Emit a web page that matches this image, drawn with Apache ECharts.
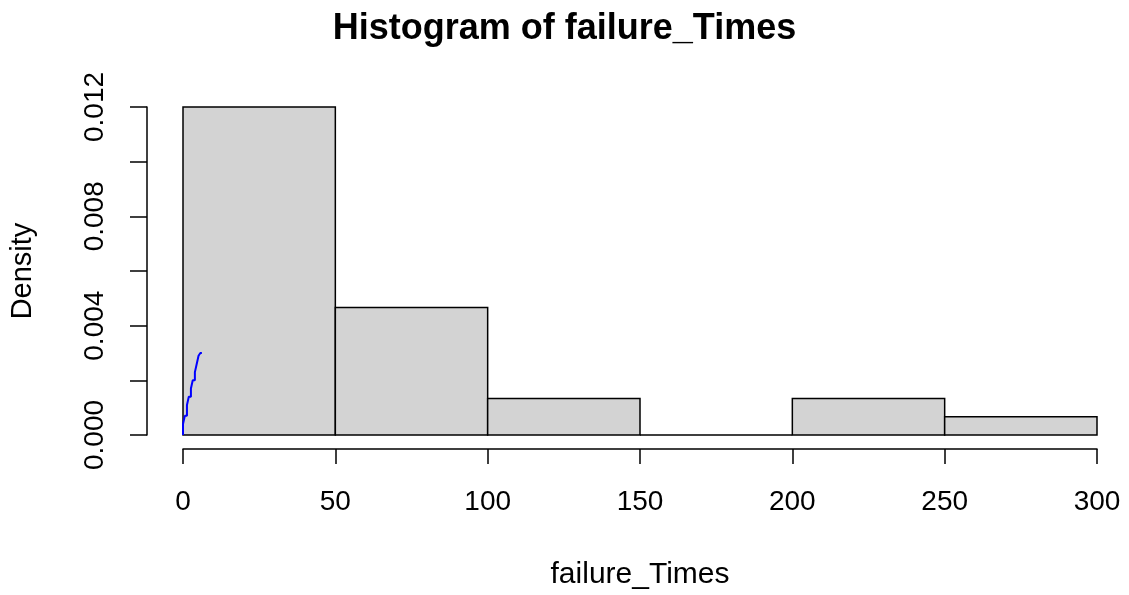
<!DOCTYPE html>
<html lang="en">
<head>
    <meta charset="UTF-8">
    <title>Histogram of failure_Times</title>
    <style>
        html, body { margin: 0; padding: 0; background: #fff; }
        #main { width: 1129px; height: 595px; }
    </style>
</head>
<body>
    <div id="main"></div>
    <script src="https://cdn.jsdelivr.net/npm/echarts@6/dist/echarts.min.js"></script>
    <script>
        // histogram breaks and densities (counts out of 30, bin width 50)
        var breaks = [0, 50, 100, 150, 200, 250, 300];
        var densities = [0.012, 0.004667, 0.001333, 0, 0.001333, 0.000667];
        // the small blue step line near the origin
        var lineX = [0, 0.6, 1.3, 1.9, 2.6, 3.2, 3.9, 4.5, 5.1, 5.7, 6.2];
        var lineY = [0, 0.0004, 0.0007, 0.0011, 0.0014, 0.0017, 0.0020, 0.0023, 0.0026, 0.0029, 0.0030];
        var xTicks = [0, 50, 100, 150, 200, 250, 300];
        var yTicks = [0, 0.004, 0.008, 0.012];

        var font = 'Liberation Sans, Arial, sans-serif';
        var chart = echarts.init(document.getElementById('main'), null, { renderer: 'canvas' });

        var bars = [];
        for (var i = 0; i < densities.length; i++) {
            bars.push([breaks[i], breaks[i + 1], densities[i]]);
        }
        var linePts = lineX.map(function (x, i) { return [x, lineY[i]]; });

        var option = {
            backgroundColor: '#fff',
            animation: false,
            title: {
                text: 'Histogram of failure_Times',
                left: 'center',
                top: 6,
                textStyle: { fontFamily: font, fontSize: 36, fontWeight: 'bold', color: '#000' }
            },
            grid: { left: 183, right: 32, top: 107, bottom: 158 },
            xAxis: {
                type: 'value',
                min: 0, max: 300, interval: 50,
                offset: 14,
                name: 'failure_Times',
                nameLocation: 'middle',
                nameGap: 111,
                nameTextStyle: { fontFamily: font, fontSize: 30, color: '#000' },
                axisLine: { show: true, onZero: false, lineStyle: { color: '#000', width: 1.5 } },
                axisTick: { show: true, length: 15, lineStyle: { color: '#000', width: 1.5 } },
                axisLabel: {
                    fontFamily: font, fontSize: 28, color: '#000', margin: 39,
                    formatter: function (v) { return xTicks.indexOf(v) >= 0 ? String(v) : ''; }
                },
                splitLine: { show: false }
            },
            yAxis: {
                type: 'value',
                min: 0, max: 0.012, interval: 0.002,
                offset: 36,
                name: 'Density',
                nameLocation: 'middle',
                nameRotate: 90,
                nameGap: 110,
                nameTextStyle: { fontFamily: font, fontSize: 29, color: '#000' },
                axisLine: { show: true, onZero: false, lineStyle: { color: '#000', width: 1.5 } },
                axisTick: { show: true, length: 17, lineStyle: { color: '#000', width: 1.5 } },
                axisLabel: {
                    fontFamily: font, fontSize: 28, color: '#000', margin: 38, rotate: 90,
                    formatter: function (v) {
                        for (var k = 0; k < yTicks.length; k++) {
                            if (Math.abs(v - yTicks[k]) < 1e-9) return yTicks[k].toFixed(3);
                        }
                        return '';
                    }
                },
                splitLine: { show: false }
            },
            series: [{
                type: 'custom',
                data: bars,
                clip: false,
                renderItem: function (params, api) {
                    var p0 = api.coord([api.value(0), api.value(2)]);
                    var p1 = api.coord([api.value(1), 0]);
                    return {
                        type: 'rect',
                        shape: { x: p0[0], y: p0[1], width: p1[0] - p0[0], height: p1[1] - p0[1] },
                        style: { fill: '#d3d3d3', stroke: '#000', lineWidth: 1.5 }
                    };
                }
            }, {
                type: 'line',
                data: linePts,
                step: 'start',
                showSymbol: false,
                lineStyle: { color: '#0000ff', width: 2 },
                z: 5
            }]
        };
        chart.setOption(option);
    </script>
</body>
</html>
